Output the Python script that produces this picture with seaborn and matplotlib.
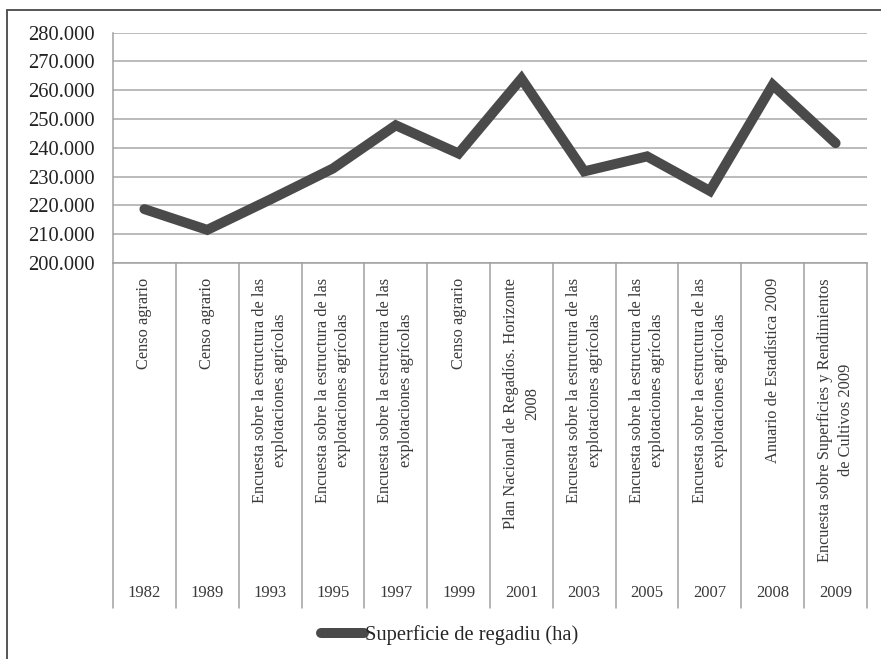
import matplotlib
matplotlib.use("Agg")
import matplotlib.pyplot as plt
import matplotlib.transforms as mtransforms
from matplotlib.lines import Line2D
from matplotlib.ticker import FuncFormatter, MultipleLocator
import seaborn as sns
import pandas as pd

years = ["1982", "1989", "1993", "1995", "1997", "1999", "2001", "2003", "2005", "2007", "2008", "2009"]
sources = [
    "Censo agrario",
    "Censo agrario",
    "Encuesta sobre la estructura de las\nexplotaciones agrícolas",
    "Encuesta sobre la estructura de las\nexplotaciones agrícolas",
    "Encuesta sobre la estructura de las\nexplotaciones agrícolas",
    "Censo agrario",
    "Plan Nacional de Regadíos. Horizonte\n2008",
    "Encuesta sobre la estructura de las\nexplotaciones agrícolas",
    "Encuesta sobre la estructura de las\nexplotaciones agrícolas",
    "Encuesta sobre la estructura de las\nexplotaciones agrícolas",
    "Anuario de Estadística 2009",
    "Encuesta sobre Superficies y Rendimientos\nde Cultivos 2009",
]
superficie = [218700, 211500, 222000, 232800, 247800, 238000, 264000, 231800, 237000, 225000, 261800, 241600]
series_name = "Superficie de regadiu (ha)"

sns.set_theme(style="white")
plt.rcParams["font.family"] = ["Liberation Serif", "DejaVu Serif"]

W, H = 881, 659
fig = plt.figure(figsize=(W / 100, H / 100), dpi=100)
L, R, T, B = 113, 867, 32.5, 263
ax = fig.add_axes([L / W, 1 - B / H, (R - L) / W, (B - T) / H])

df = pd.DataFrame({"Año": years, "Valor": superficie})
line_color = "#4a4a4a"
sns.lineplot(data=df, x="Año", y="Valor", ax=ax, color=line_color, lw=7.2,
             sort=False, solid_joinstyle="miter", solid_capstyle="round",
             label=series_name, legend=False)

ax.set_xlim(-0.5, len(years) - 0.5)
ax.set_ylim(200000, 280000)
ax.yaxis.set_major_locator(MultipleLocator(10000))
ax.yaxis.set_major_formatter(FuncFormatter(lambda v, p: f"{int(v):,}".replace(",", ".")))
ax.grid(axis="y", color="#a8a8a8", lw=1.1)
ax.grid(axis="x", visible=False)
ax.set_axisbelow(True)
ax.set_xlabel("")
ax.set_ylabel("")
ax.set_xticks(range(len(years)))
ax.set_xticklabels([])
ax.tick_params(axis="x", length=0)
ax.tick_params(axis="y", length=0, pad=13, labelsize=14.8, labelcolor="#222222")
for s in ["top", "right"]:
    ax.spines[s].set_visible(False)
for s in ["left", "bottom"]:
    ax.spines[s].set_color("#a0a0a0")
    ax.spines[s].set_linewidth(1.1)

# category table below the axis
trans = mtransforms.blended_transform_factory(ax.transData, fig.transFigure)
y_top = 1 - B / H
y_bot = 1 - 608 / H
for i in range(len(years) + 1):
    fig.add_artist(Line2D([i - 0.5, i - 0.5], [y_top, y_bot], transform=trans,
                          color="#a0a0a0", lw=1.1))
for i, (yr, src) in enumerate(zip(years, sources)):
    fig.text(i, 1 - 278 / H, src, transform=trans, rotation=90, ha="center", va="top",
             multialignment="center", fontsize=11.8, color="#3a3a3a", linespacing=1.4)
    fig.text(i, 1 - 593 / H, yr, transform=trans, ha="center", va="center",
             fontsize=12, color="#3a3a3a")

# legend
handle = Line2D([], [], color=line_color, lw=7.2, solid_capstyle="round")
fig.legend([handle], [series_name], loc="center", bbox_to_anchor=(450 / W, 1 - 635 / H),
           frameon=False, fontsize=14.8, handlelength=2.1, handletextpad=0.05)

# outer frame (cropped chart area)
fig.add_artist(Line2D([7 / W, 7 / W], [0, 1 - 10 / H], transform=fig.transFigure,
                      color="#555555", lw=1.4))
fig.add_artist(Line2D([7 / W, 1], [1 - 10 / H, 1 - 10 / H], transform=fig.transFigure,
                      color="#555555", lw=1.4))

fig.savefig("out.png", dpi=100, facecolor="white")
